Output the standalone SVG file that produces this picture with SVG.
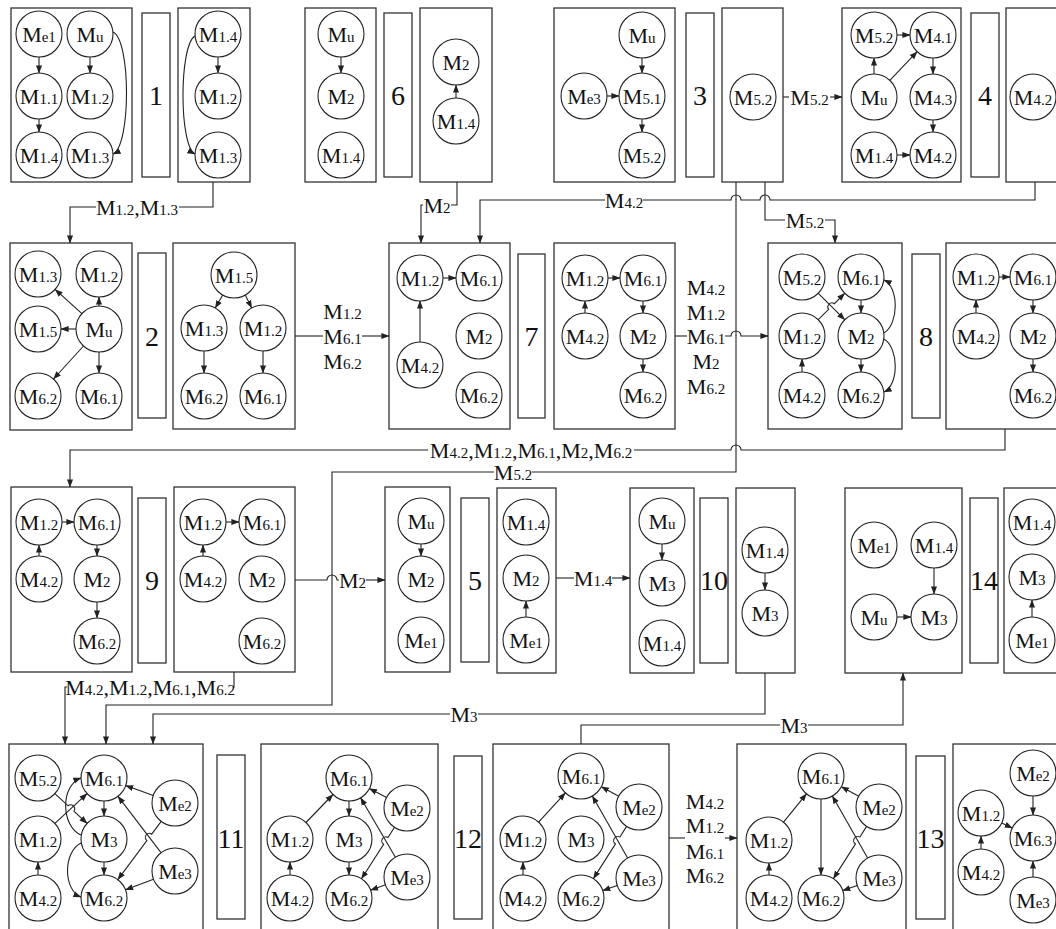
<svg xmlns="http://www.w3.org/2000/svg" width="1056" height="929" viewBox="0 0 1056 929">
<style>
.box{fill:none;stroke:#333;stroke-width:1.3}
.nd{fill:#fff;stroke:#222;stroke-width:1.1}
.e{fill:none;stroke:#222;stroke-width:1.1;marker-end:url(#ah)}
.c{fill:none;stroke:#222;stroke-width:1.1}
.t{font-family:"Liberation Serif","Times New Roman",serif;font-size:22px;text-anchor:middle;fill:#111}
.s{font-size:15px}
.n{font-family:"Liberation Serif","Times New Roman",serif;font-size:28px;text-anchor:middle;fill:#111}
</style>
<defs>
<marker id="ah" viewBox="0 0 10 10" refX="9.5" refY="5" markerWidth="8" markerHeight="8" markerUnits="userSpaceOnUse" orient="auto"><path d="M0,1.2 L10,5 L0,8.8 z" fill="#222"/></marker>
</defs>
<rect width="1056" height="929" fill="#fff"/>

<!-- Row 1 -->
<g id="s1a">
<rect class="box" x="11" y="8" width="121" height="174"/>
<circle class="nd" cx="39" cy="34" r="23"/><text class="t" x="39" y="41.5">M<tspan class="s">e1</tspan></text>
<circle class="nd" cx="90" cy="34" r="23"/><text class="t" x="90" y="41.5">M<tspan class="s">u</tspan></text>
<circle class="nd" cx="39" cy="96" r="23"/><text class="t" x="39" y="103.5">M<tspan class="s">1.1</tspan></text>
<circle class="nd" cx="90" cy="96" r="23"/><text class="t" x="90" y="103.5">M<tspan class="s">1.2</tspan></text>
<circle class="nd" cx="39" cy="155" r="23"/><text class="t" x="39" y="162.5">M<tspan class="s">1.4</tspan></text>
<circle class="nd" cx="90" cy="155" r="23"/><text class="t" x="90" y="162.5">M<tspan class="s">1.3</tspan></text>
<line class="e" x1="39" y1="57" x2="39" y2="73"/>
<line class="e" x1="39" y1="119" x2="39" y2="132"/>
<line class="e" x1="90" y1="57" x2="90" y2="73"/>
<path class="e" d="M113,32 C131,40 131,146 113,154"/>
</g>
<g id="bar1"><rect class="box" x="142" y="13" width="28" height="164"/><text class="n" x="156" y="105">1</text></g>
<g id="s1b">
<rect class="box" x="178" y="8" width="72" height="174"/>
<circle class="nd" cx="218" cy="34" r="23"/><text class="t" x="218" y="41.5">M<tspan class="s">1.4</tspan></text>
<circle class="nd" cx="218" cy="96" r="23"/><text class="t" x="218" y="103.5">M<tspan class="s">1.2</tspan></text>
<circle class="nd" cx="218" cy="155" r="23"/><text class="t" x="218" y="162.5">M<tspan class="s">1.3</tspan></text>
<line class="e" x1="218" y1="57" x2="218" y2="73"/>
<path class="e" d="M195,36 C179,45 179,146 195,154"/>
</g>

<g id="s6a">
<rect class="box" x="305" y="8" width="71" height="174"/>
<circle class="nd" cx="341" cy="34" r="23"/><text class="t" x="341" y="41.5">M<tspan class="s">u</tspan></text>
<circle class="nd" cx="341" cy="96" r="23"/><text class="t" x="341" y="103.5">M<tspan class="s">2</tspan></text>
<circle class="nd" cx="341" cy="155" r="23"/><text class="t" x="341" y="162.5">M<tspan class="s">1.4</tspan></text>
<line class="e" x1="341" y1="57" x2="341" y2="73"/>
</g>
<g id="bar6"><rect class="box" x="384" y="13" width="28" height="164"/><text class="n" x="398" y="105">6</text></g>
<g id="s6b">
<rect class="box" x="420" y="8" width="72" height="174"/>
<circle class="nd" cx="456" cy="62" r="23"/><text class="t" x="456" y="69.5">M<tspan class="s">2</tspan></text>
<circle class="nd" cx="456" cy="121" r="23"/><text class="t" x="456" y="128.5">M<tspan class="s">1.4</tspan></text>
<line class="e" x1="456" y1="98" x2="456" y2="85"/>
</g>

<g id="s3a">
<rect class="box" x="554" y="8" width="121" height="174"/>
<circle class="nd" cx="642" cy="35" r="23"/><text class="t" x="642" y="42.5">M<tspan class="s">u</tspan></text>
<circle class="nd" cx="584" cy="96" r="23"/><text class="t" x="584" y="103.5">M<tspan class="s">e3</tspan></text>
<circle class="nd" cx="642" cy="96" r="23"/><text class="t" x="642" y="103.5">M<tspan class="s">5.1</tspan></text>
<circle class="nd" cx="642" cy="155" r="23"/><text class="t" x="642" y="162.5">M<tspan class="s">5.2</tspan></text>
<line class="e" x1="642" y1="58" x2="642" y2="73"/>
<line class="e" x1="607" y1="96" x2="619" y2="96"/>
<line class="e" x1="642" y1="119" x2="642" y2="132"/>
</g>
<g id="bar3"><rect class="box" x="686" y="13" width="28" height="164"/><text class="n" x="700" y="105">3</text></g>
<g id="s3b">
<rect class="box" x="722" y="8" width="61" height="174"/>
<circle class="nd" cx="753" cy="97" r="23"/><text class="t" x="753" y="104.5">M<tspan class="s">5.2</tspan></text>
</g>

<g id="s4a">
<rect class="box" x="842" y="8" width="119" height="174"/>
<circle class="nd" cx="874" cy="35" r="23"/><text class="t" x="874" y="42.5">M<tspan class="s">5.2</tspan></text>
<circle class="nd" cx="933" cy="35" r="23"/><text class="t" x="933" y="42.5">M<tspan class="s">4.1</tspan></text>
<circle class="nd" cx="874" cy="97" r="23"/><text class="t" x="874" y="104.5">M<tspan class="s">u</tspan></text>
<circle class="nd" cx="933" cy="97" r="23"/><text class="t" x="933" y="104.5">M<tspan class="s">4.3</tspan></text>
<circle class="nd" cx="874" cy="155" r="23"/><text class="t" x="874" y="162.5">M<tspan class="s">1.4</tspan></text>
<circle class="nd" cx="933" cy="155" r="23"/><text class="t" x="933" y="162.5">M<tspan class="s">4.2</tspan></text>
<line class="e" x1="874" y1="74" x2="874" y2="58"/>
<line class="e" x1="897" y1="35" x2="910" y2="35"/>
<line class="e" x1="889.8" y1="80.3" x2="917.2" y2="51.7"/>
<line class="e" x1="933" y1="58" x2="933" y2="74"/>
<line class="e" x1="933" y1="120" x2="933" y2="132"/>
<line class="e" x1="897" y1="155" x2="910" y2="155"/>
</g>
<g id="bar4"><rect class="box" x="971" y="13" width="28" height="164"/><text class="n" x="985" y="105">4</text></g>
<g id="s4b">
<rect class="box" x="1006" y="8" width="70" height="174"/>
<circle class="nd" cx="1033" cy="97" r="23"/><text class="t" x="1033" y="104.5">M<tspan class="s">4.2</tspan></text>
</g>

<!-- Row 2 -->
<g id="s2a">
<rect class="box" x="10" y="243" width="122" height="187"/>
<circle class="nd" cx="38" cy="274" r="23"/><text class="t" x="38" y="281.5">M<tspan class="s">1.3</tspan></text>
<circle class="nd" cx="99" cy="274" r="23"/><text class="t" x="99" y="281.5">M<tspan class="s">1.2</tspan></text>
<circle class="nd" cx="38" cy="329" r="23"/><text class="t" x="38" y="336.5">M<tspan class="s">1.5</tspan></text>
<circle class="nd" cx="99" cy="329" r="23"/><text class="t" x="99" y="336.5">M<tspan class="s">u</tspan></text>
<circle class="nd" cx="38" cy="396" r="23"/><text class="t" x="38" y="403.5">M<tspan class="s">6.2</tspan></text>
<circle class="nd" cx="99" cy="396" r="23"/><text class="t" x="99" y="403.5">M<tspan class="s">6.1</tspan></text>
<line class="e" x1="81.9" y1="313.6" x2="55.1" y2="289.4"/>
<line class="e" x1="99" y1="306" x2="99" y2="297"/>
<line class="e" x1="76" y1="329" x2="61" y2="329"/>
<line class="e" x1="83.5" y1="346" x2="53.5" y2="379"/>
<line class="e" x1="99" y1="352" x2="99" y2="373"/>
</g>
<g id="bar2"><rect class="box" x="138" y="253" width="28" height="165"/><text class="n" x="152" y="346">2</text></g>
<g id="s2b">
<rect class="box" x="173" y="243" width="122" height="186"/>
<circle class="nd" cx="234" cy="275" r="23"/><text class="t" x="234" y="282.5">M<tspan class="s">1.5</tspan></text>
<circle class="nd" cx="204" cy="328" r="23"/><text class="t" x="204" y="335.5">M<tspan class="s">1.3</tspan></text>
<circle class="nd" cx="263" cy="328" r="23"/><text class="t" x="263" y="335.5">M<tspan class="s">1.2</tspan></text>
<circle class="nd" cx="204" cy="396" r="23"/><text class="t" x="204" y="403.5">M<tspan class="s">6.2</tspan></text>
<circle class="nd" cx="263" cy="396" r="23"/><text class="t" x="263" y="403.5">M<tspan class="s">6.1</tspan></text>
<line class="e" x1="222.7" y1="295" x2="215.3" y2="308"/>
<line class="e" x1="245.3" y1="295" x2="251.7" y2="308"/>
<line class="e" x1="204" y1="351" x2="204" y2="373"/>
<line class="e" x1="263" y1="351" x2="263" y2="373"/>
</g>

<g id="s7a">
<rect class="box" x="389" y="243" width="121" height="186"/>
<circle class="nd" cx="420" cy="278" r="23"/><text class="t" x="420" y="285.5">M<tspan class="s">1.2</tspan></text>
<circle class="nd" cx="479" cy="278" r="23"/><text class="t" x="479" y="285.5">M<tspan class="s">6.1</tspan></text>
<circle class="nd" cx="479" cy="336" r="23"/><text class="t" x="479" y="343.5">M<tspan class="s">2</tspan></text>
<circle class="nd" cx="420" cy="365" r="23"/><text class="t" x="420" y="372.5">M<tspan class="s">4.2</tspan></text>
<circle class="nd" cx="479" cy="395" r="23"/><text class="t" x="479" y="402.5">M<tspan class="s">6.2</tspan></text>
<line class="e" x1="443" y1="278" x2="456" y2="278"/>
<line class="e" x1="420" y1="342" x2="420" y2="301"/>
</g>
<g id="bar7"><rect class="box" x="518" y="254" width="27" height="164"/><text class="n" x="531.5" y="346">7</text></g>
<g id="s7b">
<rect class="box" x="554" y="243" width="121" height="186"/>
<circle class="nd" cx="585" cy="278" r="23"/><text class="t" x="585" y="285.5">M<tspan class="s">1.2</tspan></text>
<circle class="nd" cx="643" cy="278" r="23"/><text class="t" x="643" y="285.5">M<tspan class="s">6.1</tspan></text>
<circle class="nd" cx="585" cy="336" r="23"/><text class="t" x="585" y="343.5">M<tspan class="s">4.2</tspan></text>
<circle class="nd" cx="643" cy="336" r="23"/><text class="t" x="643" y="343.5">M<tspan class="s">2</tspan></text>
<circle class="nd" cx="643" cy="395" r="23"/><text class="t" x="643" y="402.5">M<tspan class="s">6.2</tspan></text>
<line class="e" x1="608" y1="278" x2="620" y2="278"/>
<line class="e" x1="585" y1="313" x2="585" y2="301"/>
<line class="e" x1="643" y1="301" x2="643" y2="313"/>
<line class="e" x1="643" y1="359" x2="643" y2="372"/>
</g>

<g id="s8a">
<rect class="box" x="768" y="243" width="134" height="186"/>
<circle class="nd" cx="802" cy="277" r="23"/><text class="t" x="802" y="284.5">M<tspan class="s">5.2</tspan></text>
<circle class="nd" cx="861" cy="277" r="23"/><text class="t" x="861" y="284.5">M<tspan class="s">6.1</tspan></text>
<circle class="nd" cx="802" cy="336" r="23"/><text class="t" x="802" y="343.5">M<tspan class="s">1.2</tspan></text>
<circle class="nd" cx="861" cy="336" r="23"/><text class="t" x="861" y="343.5">M<tspan class="s">2</tspan></text>
<circle class="nd" cx="802" cy="395" r="23"/><text class="t" x="802" y="402.5">M<tspan class="s">4.2</tspan></text>
<circle class="nd" cx="861" cy="395" r="23"/><text class="t" x="861" y="402.5">M<tspan class="s">6.2</tspan></text>
<line class="e" x1="818.3" y1="293.3" x2="844.7" y2="319.7"/>
<path class="e" d="M818.3,319.7 L828.7,309.3 A4,4 0 0 1 834.3,303.7 L844.7,293.3"/>
<line class="e" x1="861" y1="300" x2="861" y2="313"/>
<line class="e" x1="861" y1="359" x2="861" y2="372"/>
<line class="e" x1="802" y1="372" x2="802" y2="359"/>
<path class="e" d="M884,333 C899,324 899,287 884,280"/>
<path class="e" d="M884,339 C899,348 899,385 884,392"/>
</g>
<g id="bar8"><rect class="box" x="912" y="254" width="28" height="164"/><text class="n" x="926" y="346">8</text></g>
<g id="s8b">
<rect class="box" x="946" y="243" width="120" height="186"/>
<circle class="nd" cx="976" cy="277" r="23"/><text class="t" x="976" y="284.5">M<tspan class="s">1.2</tspan></text>
<circle class="nd" cx="1033" cy="277" r="23"/><text class="t" x="1033" y="284.5">M<tspan class="s">6.1</tspan></text>
<circle class="nd" cx="976" cy="336" r="23"/><text class="t" x="976" y="343.5">M<tspan class="s">4.2</tspan></text>
<circle class="nd" cx="1033" cy="336" r="23"/><text class="t" x="1033" y="343.5">M<tspan class="s">2</tspan></text>
<circle class="nd" cx="1033" cy="395" r="23"/><text class="t" x="1033" y="402.5">M<tspan class="s">6.2</tspan></text>
<line class="e" x1="999" y1="277" x2="1010" y2="277"/>
<line class="e" x1="976" y1="313" x2="976" y2="300"/>
<line class="e" x1="1033" y1="300" x2="1033" y2="313"/>
<line class="e" x1="1033" y1="359" x2="1033" y2="372"/>
</g>

<!-- Row 3 -->
<g id="s9a">
<rect class="box" x="11" y="487" width="121" height="185"/>
<circle class="nd" cx="39" cy="522" r="23"/><text class="t" x="39" y="529.5">M<tspan class="s">1.2</tspan></text>
<circle class="nd" cx="97" cy="522" r="23"/><text class="t" x="97" y="529.5">M<tspan class="s">6.1</tspan></text>
<circle class="nd" cx="39" cy="579" r="23"/><text class="t" x="39" y="586.5">M<tspan class="s">4.2</tspan></text>
<circle class="nd" cx="97" cy="579" r="23"/><text class="t" x="97" y="586.5">M<tspan class="s">2</tspan></text>
<circle class="nd" cx="97" cy="641" r="23"/><text class="t" x="97" y="648.5">M<tspan class="s">6.2</tspan></text>
<line class="e" x1="62" y1="522" x2="74" y2="522"/>
<line class="e" x1="39" y1="556" x2="39" y2="545"/>
<line class="e" x1="97" y1="545" x2="97" y2="556"/>
<line class="e" x1="97" y1="602" x2="97" y2="618"/>
</g>
<g id="bar9"><rect class="box" x="138" y="498" width="28" height="165"/><text class="n" x="152" y="590">9</text></g>
<g id="s9b">
<rect class="box" x="174" y="487" width="121" height="185"/>
<circle class="nd" cx="203" cy="522" r="23"/><text class="t" x="203" y="529.5">M<tspan class="s">1.2</tspan></text>
<circle class="nd" cx="262" cy="522" r="23"/><text class="t" x="262" y="529.5">M<tspan class="s">6.1</tspan></text>
<circle class="nd" cx="203" cy="579" r="23"/><text class="t" x="203" y="586.5">M<tspan class="s">4.2</tspan></text>
<circle class="nd" cx="262" cy="579" r="23"/><text class="t" x="262" y="586.5">M<tspan class="s">2</tspan></text>
<circle class="nd" cx="262" cy="641" r="23"/><text class="t" x="262" y="648.5">M<tspan class="s">6.2</tspan></text>
<line class="e" x1="226" y1="522" x2="239" y2="522"/>
<line class="e" x1="203" y1="556" x2="203" y2="545"/>
</g>

<g id="s5a">
<rect class="box" x="385" y="487" width="65" height="185"/>
<circle class="nd" cx="421" cy="521" r="23"/><text class="t" x="421" y="528.5">M<tspan class="s">u</tspan></text>
<circle class="nd" cx="421" cy="579" r="23"/><text class="t" x="421" y="586.5">M<tspan class="s">2</tspan></text>
<circle class="nd" cx="421" cy="640" r="23"/><text class="t" x="421" y="647.5">M<tspan class="s">e1</tspan></text>
<line class="e" x1="421" y1="544" x2="421" y2="556"/>
</g>
<g id="bar5"><rect class="box" x="461" y="498" width="28" height="164"/><text class="n" x="475" y="590">5</text></g>
<g id="s5b">
<rect class="box" x="497" y="488" width="59" height="185"/>
<circle class="nd" cx="526" cy="522" r="23"/><text class="t" x="526" y="529.5">M<tspan class="s">1.4</tspan></text>
<circle class="nd" cx="526" cy="578" r="23"/><text class="t" x="526" y="585.5">M<tspan class="s">2</tspan></text>
<circle class="nd" cx="526" cy="640" r="23"/><text class="t" x="526" y="647.5">M<tspan class="s">e1</tspan></text>
<line class="e" x1="526" y1="617" x2="526" y2="601"/>
</g>

<g id="s10a">
<rect class="box" x="630" y="488" width="64" height="185"/>
<circle class="nd" cx="662" cy="521" r="23"/><text class="t" x="662" y="528.5">M<tspan class="s">u</tspan></text>
<circle class="nd" cx="662" cy="583" r="23"/><text class="t" x="662" y="590.5">M<tspan class="s">3</tspan></text>
<circle class="nd" cx="662" cy="643" r="23"/><text class="t" x="662" y="650.5">M<tspan class="s">1.4</tspan></text>
<line class="e" x1="662" y1="544" x2="662" y2="560"/>
</g>
<g id="bar10"><rect class="box" x="700" y="498" width="28" height="165"/><text class="n" x="714" y="590">10</text></g>
<g id="s10b">
<rect class="box" x="736" y="488" width="59" height="185"/>
<circle class="nd" cx="765" cy="550" r="23"/><text class="t" x="765" y="557.5">M<tspan class="s">1.4</tspan></text>
<circle class="nd" cx="765" cy="613" r="23"/><text class="t" x="765" y="620.5">M<tspan class="s">3</tspan></text>
<line class="e" x1="765" y1="573" x2="765" y2="590"/>
</g>

<g id="s14a">
<rect class="box" x="845" y="488" width="117" height="185"/>
<circle class="nd" cx="874" cy="545" r="23"/><text class="t" x="874" y="552.5">M<tspan class="s">e1</tspan></text>
<circle class="nd" cx="934" cy="545" r="23"/><text class="t" x="934" y="552.5">M<tspan class="s">1.4</tspan></text>
<circle class="nd" cx="874" cy="617" r="23"/><text class="t" x="874" y="624.5">M<tspan class="s">u</tspan></text>
<circle class="nd" cx="934" cy="617" r="23"/><text class="t" x="934" y="624.5">M<tspan class="s">3</tspan></text>
<line class="e" x1="934" y1="568" x2="934" y2="594"/>
<line class="e" x1="897" y1="617" x2="911" y2="617"/>
</g>
<g id="bar14"><rect class="box" x="970" y="498" width="28" height="165"/><text class="n" x="984" y="590">14</text></g>
<g id="s14b">
<rect class="box" x="1004" y="488" width="70" height="185"/>
<circle class="nd" cx="1032" cy="522" r="23"/><text class="t" x="1032" y="529.5">M<tspan class="s">1.4</tspan></text>
<circle class="nd" cx="1032" cy="577" r="23"/><text class="t" x="1032" y="584.5">M<tspan class="s">3</tspan></text>
<circle class="nd" cx="1032" cy="640" r="23"/><text class="t" x="1032" y="647.5">M<tspan class="s">e1</tspan></text>
<line class="e" x1="1032" y1="617" x2="1032" y2="600"/>
</g>

<!-- Row 4 -->
<g id="s11a">
<rect class="box" x="9" y="744" width="194" height="200"/>
<circle class="nd" cx="38" cy="778" r="23"/><text class="t" x="38" y="785.5">M<tspan class="s">5.2</tspan></text>
<circle class="nd" cx="104" cy="778" r="23"/><text class="t" x="104" y="785.5">M<tspan class="s">6.1</tspan></text>
<circle class="nd" cx="38" cy="839" r="23"/><text class="t" x="38" y="846.5">M<tspan class="s">1.2</tspan></text>
<circle class="nd" cx="104" cy="839" r="23"/><text class="t" x="104" y="846.5">M<tspan class="s">3</tspan></text>
<circle class="nd" cx="38" cy="898" r="23"/><text class="t" x="38" y="905.5">M<tspan class="s">4.2</tspan></text>
<circle class="nd" cx="104" cy="898" r="23"/><text class="t" x="104" y="905.5">M<tspan class="s">6.2</tspan></text>
<circle class="nd" cx="175" cy="803" r="23"/><text class="t" x="175" y="810.5">M<tspan class="s">e2</tspan></text>
<circle class="nd" cx="175" cy="871" r="23"/><text class="t" x="175" y="878.5">M<tspan class="s">e3</tspan></text>
<line class="e" x1="54.9" y1="823.4" x2="87.1" y2="793.6"/>
<path class="e" d="M54.9,793.6 L68.1,805.8 A4,4 0 0 1 73.9,811.2 L87.1,823.4"/>
<line class="e" x1="104" y1="801" x2="104" y2="816"/>
<line class="e" x1="104" y1="862" x2="104" y2="875"/>
<line class="e" x1="38" y1="875" x2="38" y2="862"/>
<line class="e" x1="153.3" y1="795.4" x2="125.7" y2="785.6"/>
<path class="e" d="M161.2,821.4 L151.7,834.2 A4,4 0 0 0 146.9,840.6 L117.8,879.6"/>
<line class="e" x1="153.5" y1="879.2" x2="125.5" y2="889.8"/>
<line class="e" x1="161" y1="852.7" x2="118" y2="796.3"/>
<path class="e" d="M81,835 C61,826 60,786 81,778"/>
<path class="e" d="M81,843 C63,852 63,890 81,897"/>
</g>
<g id="bar11"><rect class="box" x="217" y="755" width="28" height="164"/><text class="n" x="231" y="848">11</text></g>
<g id="s11b">
<rect class="box" x="261" y="744" width="177" height="200"/>
<circle class="nd" cx="349" cy="778" r="23"/><text class="t" x="349" y="785.5">M<tspan class="s">6.1</tspan></text>
<circle class="nd" cx="290" cy="839" r="23"/><text class="t" x="290" y="846.5">M<tspan class="s">1.2</tspan></text>
<circle class="nd" cx="349" cy="839" r="23"/><text class="t" x="349" y="846.5">M<tspan class="s">3</tspan></text>
<circle class="nd" cx="290" cy="898" r="23"/><text class="t" x="290" y="905.5">M<tspan class="s">4.2</tspan></text>
<circle class="nd" cx="349" cy="898" r="23"/><text class="t" x="349" y="905.5">M<tspan class="s">6.2</tspan></text>
<circle class="nd" cx="407" cy="808" r="23"/><text class="t" x="407" y="815.5">M<tspan class="s">e2</tspan></text>
<circle class="nd" cx="407" cy="877" r="23"/><text class="t" x="407" y="884.5">M<tspan class="s">e3</tspan></text>
<line class="e" x1="306" y1="822.5" x2="333" y2="794.5"/>
<line class="e" x1="290" y1="875" x2="290" y2="862"/>
<line class="e" x1="349" y1="801" x2="349" y2="816"/>
<line class="e" x1="349" y1="862" x2="349" y2="875"/>
<line class="e" x1="386.6" y1="797.4" x2="369.4" y2="788.6"/>
<path class="e" d="M394.5,827.3 L388,837.5 A4,4 0 0 0 383.6,844.3 L361.5,878.7"/>
<line class="e" x1="385.4" y1="884.8" x2="370.6" y2="890.2"/>
<line class="e" x1="395.4" y1="857.2" x2="360.6" y2="797.8"/>
</g>
<g id="bar12"><rect class="box" x="454" y="756" width="28" height="163"/><text class="n" x="468" y="848">12</text></g>
<g id="s12b">
<rect class="box" x="493" y="744" width="176" height="200"/>
<circle class="nd" cx="581" cy="776" r="23"/><text class="t" x="581" y="783.5">M<tspan class="s">6.1</tspan></text>
<circle class="nd" cx="523" cy="839" r="23"/><text class="t" x="523" y="846.5">M<tspan class="s">1.2</tspan></text>
<circle class="nd" cx="581" cy="839" r="23"/><text class="t" x="581" y="846.5">M<tspan class="s">3</tspan></text>
<circle class="nd" cx="639" cy="807" r="23"/><text class="t" x="639" y="814.5">M<tspan class="s">e2</tspan></text>
<circle class="nd" cx="523" cy="898" r="23"/><text class="t" x="523" y="905.5">M<tspan class="s">4.2</tspan></text>
<circle class="nd" cx="581" cy="898" r="23"/><text class="t" x="581" y="905.5">M<tspan class="s">6.2</tspan></text>
<circle class="nd" cx="639" cy="878" r="23"/><text class="t" x="639" y="885.5">M<tspan class="s">e3</tspan></text>
<line class="e" x1="538.6" y1="822.1" x2="565.4" y2="792.9"/>
<line class="e" x1="523" y1="875" x2="523" y2="862"/>
<line class="e" x1="618.7" y1="796.2" x2="601.3" y2="786.8"/>
<path class="e" d="M626.6,826.4 L619.9,837.1 A4,4 0 0 0 615.5,843.9 L593.4,878.6"/>
<line class="e" x1="617.3" y1="885.5" x2="602.7" y2="890.5"/>
<line class="e" x1="627.6" y1="858" x2="592.4" y2="796"/>
</g>

<g id="s13a">
<rect class="box" x="737" y="744" width="169" height="200"/>
<circle class="nd" cx="821" cy="776" r="23"/><text class="t" x="821" y="783.5">M<tspan class="s">6.1</tspan></text>
<circle class="nd" cx="769" cy="840" r="23"/><text class="t" x="769" y="847.5">M<tspan class="s">1.2</tspan></text>
<circle class="nd" cx="879" cy="807" r="23"/><text class="t" x="879" y="814.5">M<tspan class="s">e2</tspan></text>
<circle class="nd" cx="879" cy="878" r="23"/><text class="t" x="879" y="885.5">M<tspan class="s">e3</tspan></text>
<circle class="nd" cx="769" cy="898" r="23"/><text class="t" x="769" y="905.5">M<tspan class="s">4.2</tspan></text>
<circle class="nd" cx="821" cy="898" r="23"/><text class="t" x="821" y="905.5">M<tspan class="s">6.2</tspan></text>
<line class="e" x1="783.5" y1="822.2" x2="806.5" y2="793.8"/>
<line class="e" x1="769" y1="875" x2="769" y2="863"/>
<line class="e" x1="821" y1="799" x2="821" y2="875"/>
<line class="e" x1="858.7" y1="796.2" x2="841.3" y2="786.8"/>
<path class="e" d="M866.6,826.4 L859.9,837.1 A4,4 0 0 0 855.5,843.9 L833.4,878.6"/>
<line class="e" x1="857.3" y1="885.5" x2="842.7" y2="890.5"/>
<line class="e" x1="867.6" y1="858" x2="832.4" y2="796"/>
</g>
<g id="bar13"><rect class="box" x="916" y="756" width="29" height="163"/><text class="n" x="930.5" y="848">13</text></g>
<g id="s13b">
<rect class="box" x="953" y="744" width="120" height="200"/>
<circle class="nd" cx="1033" cy="773" r="23"/><text class="t" x="1033" y="780.5">M<tspan class="s">e2</tspan></text>
<circle class="nd" cx="981" cy="813" r="23"/><text class="t" x="981" y="820.5">M<tspan class="s">1.2</tspan></text>
<circle class="nd" cx="1033" cy="838" r="23"/><text class="t" x="1033" y="845.5">M<tspan class="s">6.3</tspan></text>
<circle class="nd" cx="981" cy="872" r="23"/><text class="t" x="981" y="879.5">M<tspan class="s">4.2</tspan></text>
<circle class="nd" cx="1033" cy="900" r="23"/><text class="t" x="1033" y="907.5">M<tspan class="s">e3</tspan></text>
<line class="e" x1="1033" y1="796" x2="1033" y2="815"/>
<line class="e" x1="1001.7" y1="823" x2="1012.3" y2="828"/>
<line class="e" x1="981" y1="849" x2="981" y2="836"/>
<line class="e" x1="1033" y1="877" x2="1033" y2="861"/>
</g>

<!-- Connectors -->
<g id="connectors">
<path class="c" d="M213,182 V207 H179"/>
<path class="e" d="M96,207 H70 V243"/>
<text class="t" x="137" y="214.5">M<tspan class="s">1.2</tspan>,M<tspan class="s">1.3</tspan></text>

<path class="c" d="M457,182 V205 H451"/>
<path class="e" d="M423,205 H421 V243"/>
<text class="t" x="437" y="212.5">M<tspan class="s">2</tspan></text>

<path class="c" d="M1035,182 V200 H770 A5,5 0 0 0 760,200 H741 A5,5 0 0 0 731,200 H643"/>
<path class="e" d="M605,200 H480 V243"/>
<text class="t" x="624" y="207.5">M<tspan class="s">4.2</tspan></text>

<path class="c" d="M783,97 H789"/>
<path class="e" d="M830,97 H842"/>
<text class="t" x="809.5" y="104.5">M<tspan class="s">5.2</tspan></text>

<path class="c" d="M765,182 V220 H785"/>
<path class="e" d="M825,220 H835 V243"/>
<text class="t" x="805" y="227.5">M<tspan class="s">5.2</tspan></text>

<path class="c" d="M736,182 V472 H532"/>
<path class="e" d="M494,472 H332 V705 H106 V744"/>
<text class="t" x="513" y="479.5">M<tspan class="s">5.2</tspan></text>

<path class="c" d="M675,336 H687"/>
<path class="e" d="M725,336 H731 A5,5 0 0 1 741,336 H768"/>
<text class="t" x="706" y="294.5">M<tspan class="s">4.2</tspan></text>
<text class="t" x="706" y="319.5">M<tspan class="s">1.2</tspan></text>
<text class="t" x="706" y="343.5">M<tspan class="s">6.1</tspan></text>
<text class="t" x="706" y="368.5">M<tspan class="s">2</tspan></text>
<text class="t" x="706" y="393.5">M<tspan class="s">6.2</tspan></text>

<path class="c" d="M295,336 H323"/>
<path class="e" d="M362,336 H389"/>
<text class="t" x="342.5" y="318.5">M<tspan class="s">1.2</tspan></text>
<text class="t" x="342.5" y="343.5">M<tspan class="s">6.1</tspan></text>
<text class="t" x="342.5" y="368.5">M<tspan class="s">6.2</tspan></text>

<path class="c" d="M1005,429 V450 H741 A5,5 0 0 0 731,450 H634"/>
<path class="e" d="M428,450 H70 V487"/>
<text class="t" x="531" y="457.5">M<tspan class="s">4.2</tspan>,M<tspan class="s">1.2</tspan>,M<tspan class="s">6.1</tspan>,M<tspan class="s">2</tspan>,M<tspan class="s">6.2</tspan></text>

<path class="c" d="M234,672 V687 H233"/>
<path class="e" d="M67,687 H65 V744"/>
<text class="t" x="150" y="694.5">M<tspan class="s">4.2</tspan>,M<tspan class="s">1.2</tspan>,M<tspan class="s">6.1</tspan>,M<tspan class="s">6.2</tspan></text>

<path class="c" d="M295,580 H327 A5,5 0 0 1 337,580 H339"/>
<path class="e" d="M366,580 H385"/>
<text class="t" x="352.5" y="587.5">M<tspan class="s">2</tspan></text>

<path class="c" d="M556,578 H574"/>
<path class="e" d="M612,578 H630"/>
<text class="t" x="593" y="585.5">M<tspan class="s">1.4</tspan></text>

<path class="c" d="M765,673 V714 H478"/>
<path class="e" d="M450,714 H153 V744"/>
<text class="t" x="464" y="721.5">M<tspan class="s">3</tspan></text>

<path class="c" d="M581,744 V725 H780"/>
<path class="e" d="M808,725 H903 V673"/>
<text class="t" x="794" y="732.5">M<tspan class="s">3</tspan></text>

<path class="c" d="M669,838 H685"/>
<path class="e" d="M725,838 H737"/>
<text class="t" x="705" y="808.5">M<tspan class="s">4.2</tspan></text>
<text class="t" x="705" y="832.5">M<tspan class="s">1.2</tspan></text>
<text class="t" x="705" y="858.5">M<tspan class="s">6.1</tspan></text>
<text class="t" x="705" y="882.5">M<tspan class="s">6.2</tspan></text>
</g>
</svg>
